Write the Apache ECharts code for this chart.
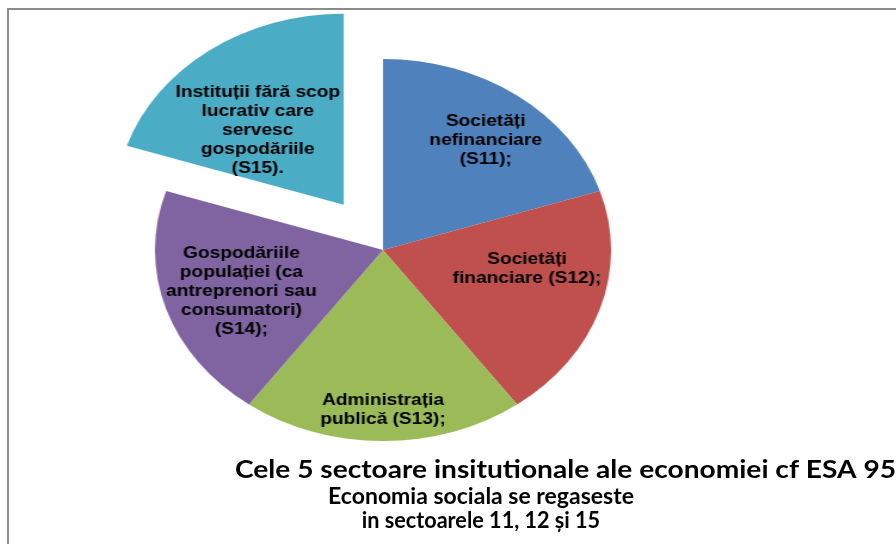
<!DOCTYPE html>
<html>
<head>
<meta charset="utf-8">
<script src="https://cdn.jsdelivr.net/npm/echarts@6/dist/echarts.min.js"></script>
<style>
  html, body { margin: 0; padding: 0; background: #fff; overflow: hidden; width: 896px; height: 544px; }
  #frame, #pie { position: absolute; left: 0; top: 0; width: 896px; height: 544px; }
  /* the original pie is an ellipse, so the pie layer is stretched sideways */
  #pie { transform: scaleX(1.194); transform-origin: 383px 0; }
</style>
</head>
<body>
<div id="frame"></div>
<div id="pie"></div>
<script>
// sectors (ESA 95)
const sectorLabels = [
  'Societăți\nnefinanciare\n(S11);',
  'Societăți\nfinanciare (S12);',
  'Administrația\npublică (S13);',
  'Gospodăriile\npopulației (ca\nantreprenori sau\nconsumatori)\n(S14);',
  'Instituții fără scop\nlucrativ care\nservesc\ngospodăriile\n(S15).'
];
const sectorValues = [1, 1, 1, 1, 1];
const explodedSector = 4;
const sectorColors = ['#4F81BD', '#C0504D', '#9BBB59', '#8064A2', '#4BACC6'];

const titleLines = [
  'Cele 5 sectoare insitutionale ale economiei cf ESA 95',
  'Economia sociala se regaseste',
  'in sectoarele 11, 12 și 15'
];

// small label nudges, like Excel's "best fit"
const labelNudge = [[9, -3], [-4, -21], [0, 29], [6, 1], [5, 32]];

const pieData = sectorLabels.map((name, i) => ({
  name: name,
  value: sectorValues[i],
  selected: i === explodedSector
}));

// ---- frame + title (not stretched)
const titleFont = 'bold 23px Lato';
const frameChart = echarts.init(document.getElementById('frame'));
frameChart.setOption({
  animation: false,
  backgroundColor: 'transparent',
  graphic: [
    {
      type: 'rect',
      shape: { x: 8, y: 9, width: 1000, height: 700 },
      style: { fill: 'none', stroke: '#8c8c8c', lineWidth: 2 }
    },
    {
      type: 'text',
      x: 235, y: 470, scaleX: 1.125,
      style: { text: titleLines[0], x: 0, y: 0, textAlign: 'left', textVerticalAlign: 'middle',
               font: 'bold 25px Lato', fill: '#000' }
    },
    {
      type: 'text',
      style: { text: titleLines[1], x: 481, y: 497, textAlign: 'center', textVerticalAlign: 'middle',
               font: titleFont, fill: '#000' }
    },
    {
      type: 'text',
      x: 481, y: 521, scaleX: 0.94,
      style: { text: titleLines[2], x: 0, y: 0, textAlign: 'center', textVerticalAlign: 'middle',
               font: titleFont, fill: '#000' }
    }
  ]
});

// ---- pie (stretched layer)
const pieChart = echarts.init(document.getElementById('pie'));
pieChart.setOption({
  animation: false,
  backgroundColor: 'transparent',
  color: sectorColors,
  series: [
    {
      // visible slices
      type: 'pie',
      center: [383, 250],
      radius: 191,
      startAngle: 90,
      clockwise: true,
      selectedMode: 'single',
      selectedOffset: 56,
      silent: true,
      label: { show: false },
      labelLine: { show: false },
      itemStyle: { borderWidth: 0 },
      emphasis: { disabled: true },
      data: pieData
    },
    {
      // transparent copy that only carries the labels further out
      type: 'pie',
      center: [383, 250],
      radius: 256,
      startAngle: 90,
      clockwise: true,
      selectedMode: 'single',
      selectedOffset: 56,
      silent: true,
      avoidLabelOverlap: false,
      itemStyle: { color: 'transparent', borderWidth: 0 },
      label: {
        show: true,
        position: 'inside',
        color: '#000',
        fontFamily: 'Liberation Sans',
        fontWeight: 'bold',
        fontSize: 16,
        lineHeight: 19,
        align: 'center'
      },
      labelLine: { show: false },
      labelLayout: function (p) {
        const n = labelNudge[p.dataIndex];
        return { dx: n[0], dy: n[1] };
      },
      emphasis: { disabled: true },
      data: pieData
    }
  ]
});

window.addEventListener('resize', () => {
  frameChart.resize();
  pieChart.resize();
});
</script>
</body>
</html>
